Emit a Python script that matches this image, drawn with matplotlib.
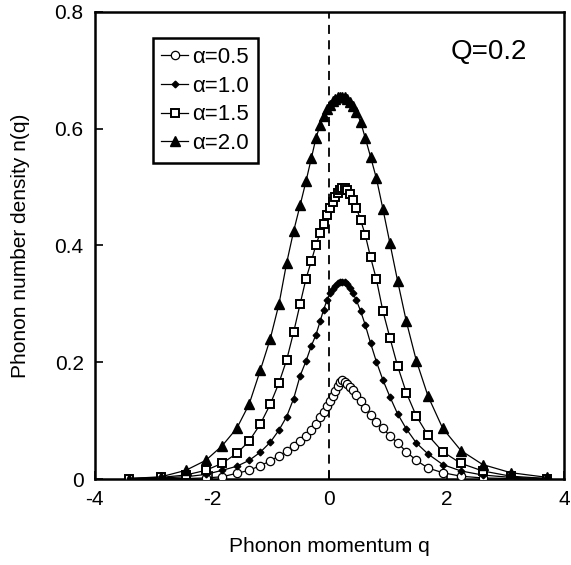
import matplotlib as mpl
mpl.use('Agg')
import matplotlib.pyplot as plt

# shared momentum grid (denser near the peak)
q = [-3.41, -2.87, -2.45, -2.11, -1.83, -1.58, -1.37, -1.18, -1.01, -0.86,
     -0.73, -0.61, -0.50, -0.40, -0.31, -0.23, -0.16, -0.10, -0.04, 0.01,
     0.06, 0.10, 0.14, 0.18, 0.22, 0.26, 0.30, 0.35, 0.40, 0.46,
     0.53, 0.61, 0.70, 0.80, 0.91, 1.03, 1.16, 1.31, 1.48, 1.68,
     1.93, 2.24, 2.61, 3.09, 3.71]

n_a05 = [0.000, 0.001, 0.001, 0.002, 0.004, 0.010, 0.015, 0.023, 0.031, 0.040,
         0.048, 0.056, 0.065, 0.073, 0.084, 0.094, 0.106, 0.115, 0.126, 0.134,
         0.143, 0.151, 0.160, 0.166, 0.170, 0.167, 0.163, 0.158, 0.152, 0.144,
         0.133, 0.122, 0.110, 0.098, 0.087, 0.074, 0.062, 0.047, 0.032, 0.019,
         0.011, 0.005, 0.002, 0.001, 0.000]

n_a10 = [0.001, 0.002, 0.004, 0.008, 0.015, 0.022, 0.032, 0.046, 0.063, 0.084,
         0.107, 0.138, 0.177, 0.202, 0.228, 0.247, 0.270, 0.290, 0.307, 0.318,
         0.326, 0.331, 0.335, 0.337, 0.338, 0.337, 0.334, 0.327, 0.318, 0.306,
         0.288, 0.264, 0.233, 0.201, 0.170, 0.141, 0.112, 0.086, 0.062, 0.043,
         0.025, 0.014, 0.007, 0.003, 0.001]

n_a15 = [0.001, 0.003, 0.007, 0.015, 0.027, 0.044, 0.065, 0.094, 0.128, 0.165,
         0.204, 0.252, 0.300, 0.343, 0.373, 0.401, 0.421, 0.437, 0.452, 0.465,
         0.475, 0.483, 0.490, 0.495, 0.498, 0.498, 0.495, 0.488, 0.478, 0.464,
         0.444, 0.418, 0.380, 0.342, 0.288, 0.242, 0.194, 0.148, 0.108, 0.075,
         0.047, 0.027, 0.014, 0.005, 0.001]

n_a20 = [0.001, 0.004, 0.015, 0.032, 0.057, 0.087, 0.128, 0.186, 0.240, 0.300,
         0.370, 0.425, 0.469, 0.510, 0.549, 0.584, 0.606, 0.621, 0.633, 0.641,
         0.648, 0.651, 0.654, 0.655, 0.655, 0.654, 0.651, 0.646, 0.639, 0.628,
         0.612, 0.584, 0.552, 0.515, 0.463, 0.404, 0.340, 0.270, 0.203, 0.142,
         0.087, 0.049, 0.025, 0.011, 0.003]

labels = ['α=0.5', 'α=1.0', 'α=1.5', 'α=2.0']

plt.rcParams['font.family'] = ['Liberation Sans', 'DejaVu Sans']
plt.rcParams['axes.unicode_minus'] = False

fig = plt.figure(figsize=(5.71, 5.65), dpi=100)
ax = fig.add_axes([0.166, 0.152, 0.822, 0.827])

ax.axvline(0, color='black', linestyle=(0, (5, 3.5)), linewidth=1.3, zorder=1)

ax.plot(q, n_a05, color='black', linewidth=0.9, marker='o', markersize=6,
        markerfacecolor='white', markeredgecolor='black', markeredgewidth=0.9,
        label=labels[0], zorder=3)
ax.plot(q, n_a10, color='black', linewidth=0.9, marker='D', markersize=3.4,
        markerfacecolor='black', markeredgecolor='black', label=labels[1], zorder=3)
ax.plot(q, n_a15, color='black', linewidth=0.9, marker='s', markersize=5.3,
        markerfacecolor='white', markeredgecolor='black', markeredgewidth=1.4,
        label=labels[2], zorder=3)
ax.plot(q, n_a20, color='black', linewidth=0.9, marker='^', markersize=6.5,
        markerfacecolor='black', markeredgecolor='black', label=labels[3], zorder=3)

ax.set_xlim(-4, 4)
ax.set_ylim(0, 0.8)
ax.set_xticks([-4, -2, 0, 2, 4])
ax.set_yticks([0, 0.2, 0.4, 0.6, 0.8])
ax.set_yticklabels(['0', '0.2', '0.4', '0.6', '0.8'])
ax.tick_params(direction='in', length=6, width=1.2, labelsize=15, pad=8)

for s in ax.spines.values():
    s.set_linewidth(1.8)

ax.set_xlabel('Phonon momentum q', fontsize=15, labelpad=20)
ax.set_ylabel('Phonon number density n(q)', fontsize=15, labelpad=18)

leg = ax.legend(loc='upper left', bbox_to_anchor=(0.123, 0.944), borderaxespad=0,
                fontsize=16, handlelength=1.2, handletextpad=0.2, labelspacing=0.35,
                borderpad=0.4, fancybox=False, framealpha=1, edgecolor='black')
leg.get_frame().set_linewidth(1.8)

ax.text(0.84, 0.914, 'Q=0.2', transform=ax.transAxes, fontsize=20,
        ha='center', va='center')

plt.savefig('out.png', dpi=100)
